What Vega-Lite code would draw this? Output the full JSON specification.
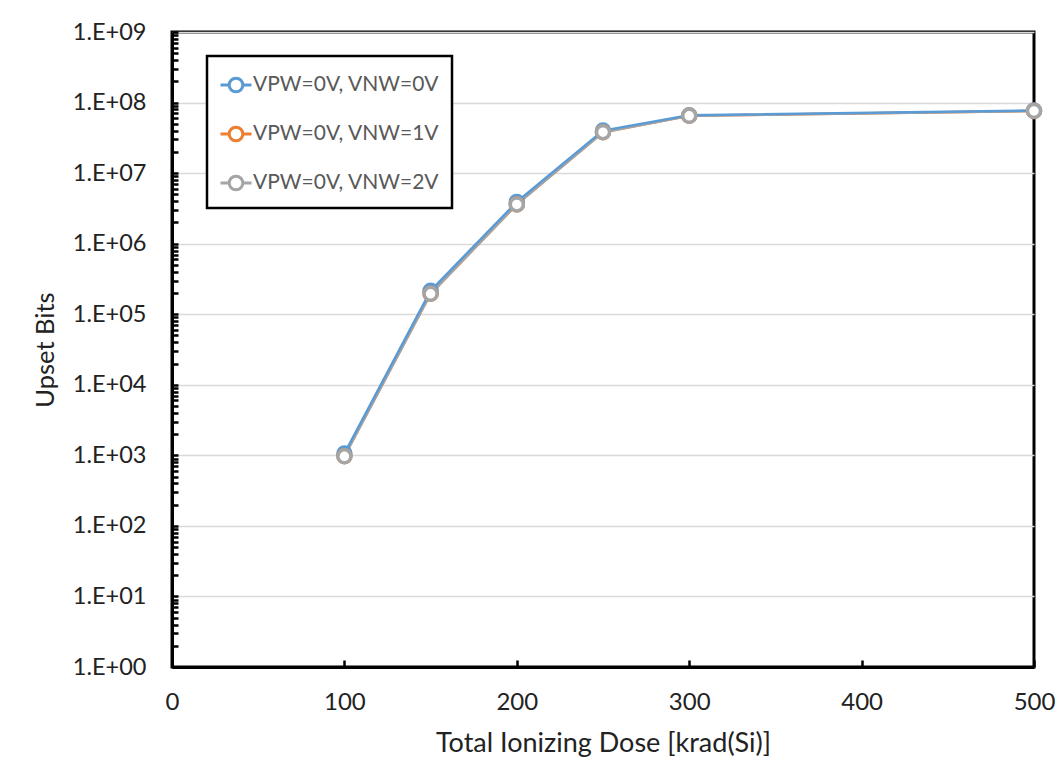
{
  "$schema": "https://vega.github.io/schema/vega-lite/v6.json",
  "width": 862,
  "height": 635,
  "autosize": {"type": "none"},
  "padding": {"left": 172, "top": 32, "right": 29, "bottom": 109},
  "background": "white",
  "config": {
    "font": "Lato",
    "view": {"stroke": "black", "strokeWidth": 3},
    "axis": {"labelFont": "Lato", "titleFont": "Lato", "labelColor": "#222", "titleColor": "#222", "domainColor": "black", "domainWidth": 3, "tickColor": "black", "tickWidth": 2.5}
  },
  "data": {
    "values": [
      {"dose": 100, "bits": 1060, "series": "VPW=0V, VNW=0V"},
      {"dose": 150, "bits": 215000, "series": "VPW=0V, VNW=0V"},
      {"dose": 200, "bits": 3900000, "series": "VPW=0V, VNW=0V"},
      {"dose": 250, "bits": 40000000, "series": "VPW=0V, VNW=0V"},
      {"dose": 300, "bits": 66000000, "series": "VPW=0V, VNW=0V"},
      {"dose": 500, "bits": 77000000, "series": "VPW=0V, VNW=0V"},
      {"dose": 100, "bits": 970, "series": "VPW=0V, VNW=1V"},
      {"dose": 150, "bits": 195000, "series": "VPW=0V, VNW=1V"},
      {"dose": 200, "bits": 3600000, "series": "VPW=0V, VNW=1V"},
      {"dose": 250, "bits": 38000000, "series": "VPW=0V, VNW=1V"},
      {"dose": 300, "bits": 65000000, "series": "VPW=0V, VNW=1V"},
      {"dose": 500, "bits": 76000000, "series": "VPW=0V, VNW=1V"},
      {"dose": 100, "bits": 970, "series": "VPW=0V, VNW=2V"},
      {"dose": 150, "bits": 195000, "series": "VPW=0V, VNW=2V"},
      {"dose": 200, "bits": 3600000, "series": "VPW=0V, VNW=2V"},
      {"dose": 250, "bits": 38000000, "series": "VPW=0V, VNW=2V"},
      {"dose": 300, "bits": 65000000, "series": "VPW=0V, VNW=2V"},
      {"dose": 500, "bits": 76000000, "series": "VPW=0V, VNW=2V"}
    ]
  },
  "encoding": {
    "x": {
      "field": "dose", "type": "quantitative",
      "scale": {"domain": [0, 500], "nice": false},
      "axis": {
        "title": "Total Ionizing Dose [krad(Si)]",
        "values": [0, 100, 200, 300, 400, 500],
        "grid": false,
        "tickSize": -7,
        "labelFlush": false,
        "labelPadding": 30,
        "labelFontSize": 24,
        "titleFontSize": 27,
        "titleFontWeight": "normal",
        "titlePadding": 16
      }
    },
    "y": {
      "field": "bits", "type": "quantitative",
      "scale": {"type": "log", "domain": [1, 1000000000], "nice": false},
      "axis": {
        "title": "Upset Bits",
        "values": [1,2,3,4,5,6,7,8,9,10,20,30,40,50,60,70,80,90,100,200,300,400,500,600,700,800,900,1000,2000,3000,4000,5000,6000,7000,8000,9000,10000,20000,30000,40000,50000,60000,70000,80000,90000,100000,200000,300000,400000,500000,600000,700000,800000,900000,1000000,2000000,3000000,4000000,5000000,6000000,7000000,8000000,9000000,10000000,20000000,30000000,40000000,50000000,60000000,70000000,80000000,90000000,100000000,200000000,300000000,400000000,500000000,600000000,700000000,800000000,900000000,1000000000],
        "labelExpr": "abs(log(datum.value)/LN10 - round(log(datum.value)/LN10)) > 0.001 ? '' : '1.E+' + (round(log(datum.value)/LN10) < 10 ? '0' : '') + round(log(datum.value)/LN10)",
        "grid": true,
        "gridColor": "#d9d9d9",
        "gridWidth": 1.5,
        "gridOpacity": {"condition": {"test": "abs(log(datum.value)/LN10 - round(log(datum.value)/LN10)) > 0.001", "value": 0}, "value": 1},
        "tickSize": -6,
        "labelFlush": false,
        "labelPadding": 32,
        "labelFontSize": 23.5,
        "titleFontSize": 25.5,
        "titleFontWeight": "normal",
        "titlePadding": 14
      }
    },
    "color": {
      "field": "series", "type": "nominal",
      "scale": {"domain": ["VPW=0V, VNW=0V", "VPW=0V, VNW=1V", "VPW=0V, VNW=2V"], "range": ["#5B9BD5", "#ED7D31", "#A5A5A5"]},
      "legend": {
        "title": null,
        "orient": "none",
        "legendX": 35,
        "legendY": 24,
        "fillColor": "white",
        "strokeColor": "black",
        "padding": 12,
        "rowPadding": 19,
        "labelFont": "Lato",
        "labelFontSize": 21,
        "labelLimit": 400,
        "labelColor": "#595959",
        "labelOffset": 0,
        "symbolType": "M-1,0 H-0.44 M0.44,0 H1 M-0.44,0 A0.44,0.44 0 1,0 0.44,0 A0.44,0.44 0 1,0 -0.44,0",
        "symbolSize": 961,
        "symbolStrokeWidth": 3,
        "symbolFillColor": "white",
        "symbolOpacity": 1,
        "encode": {"legend": {"update": {"strokeWidth": {"value": 2.5}}}}
      }
    }
  },
  "layer": [
    {"transform": [{"filter": "datum.series == 'VPW=0V, VNW=1V'"}], "mark": {"type": "line", "strokeWidth": 2.5}},
    {"transform": [{"filter": "datum.series == 'VPW=0V, VNW=2V'"}], "mark": {"type": "line", "strokeWidth": 2.5}},
    {"transform": [{"filter": "datum.series == 'VPW=0V, VNW=0V'"}], "mark": {"type": "line", "strokeWidth": 2.5}},
    {"mark": {"type": "point", "shape": "circle", "filled": false, "fill": "white", "strokeWidth": 3.5, "size": 170, "opacity": 1}}
  ]
}
